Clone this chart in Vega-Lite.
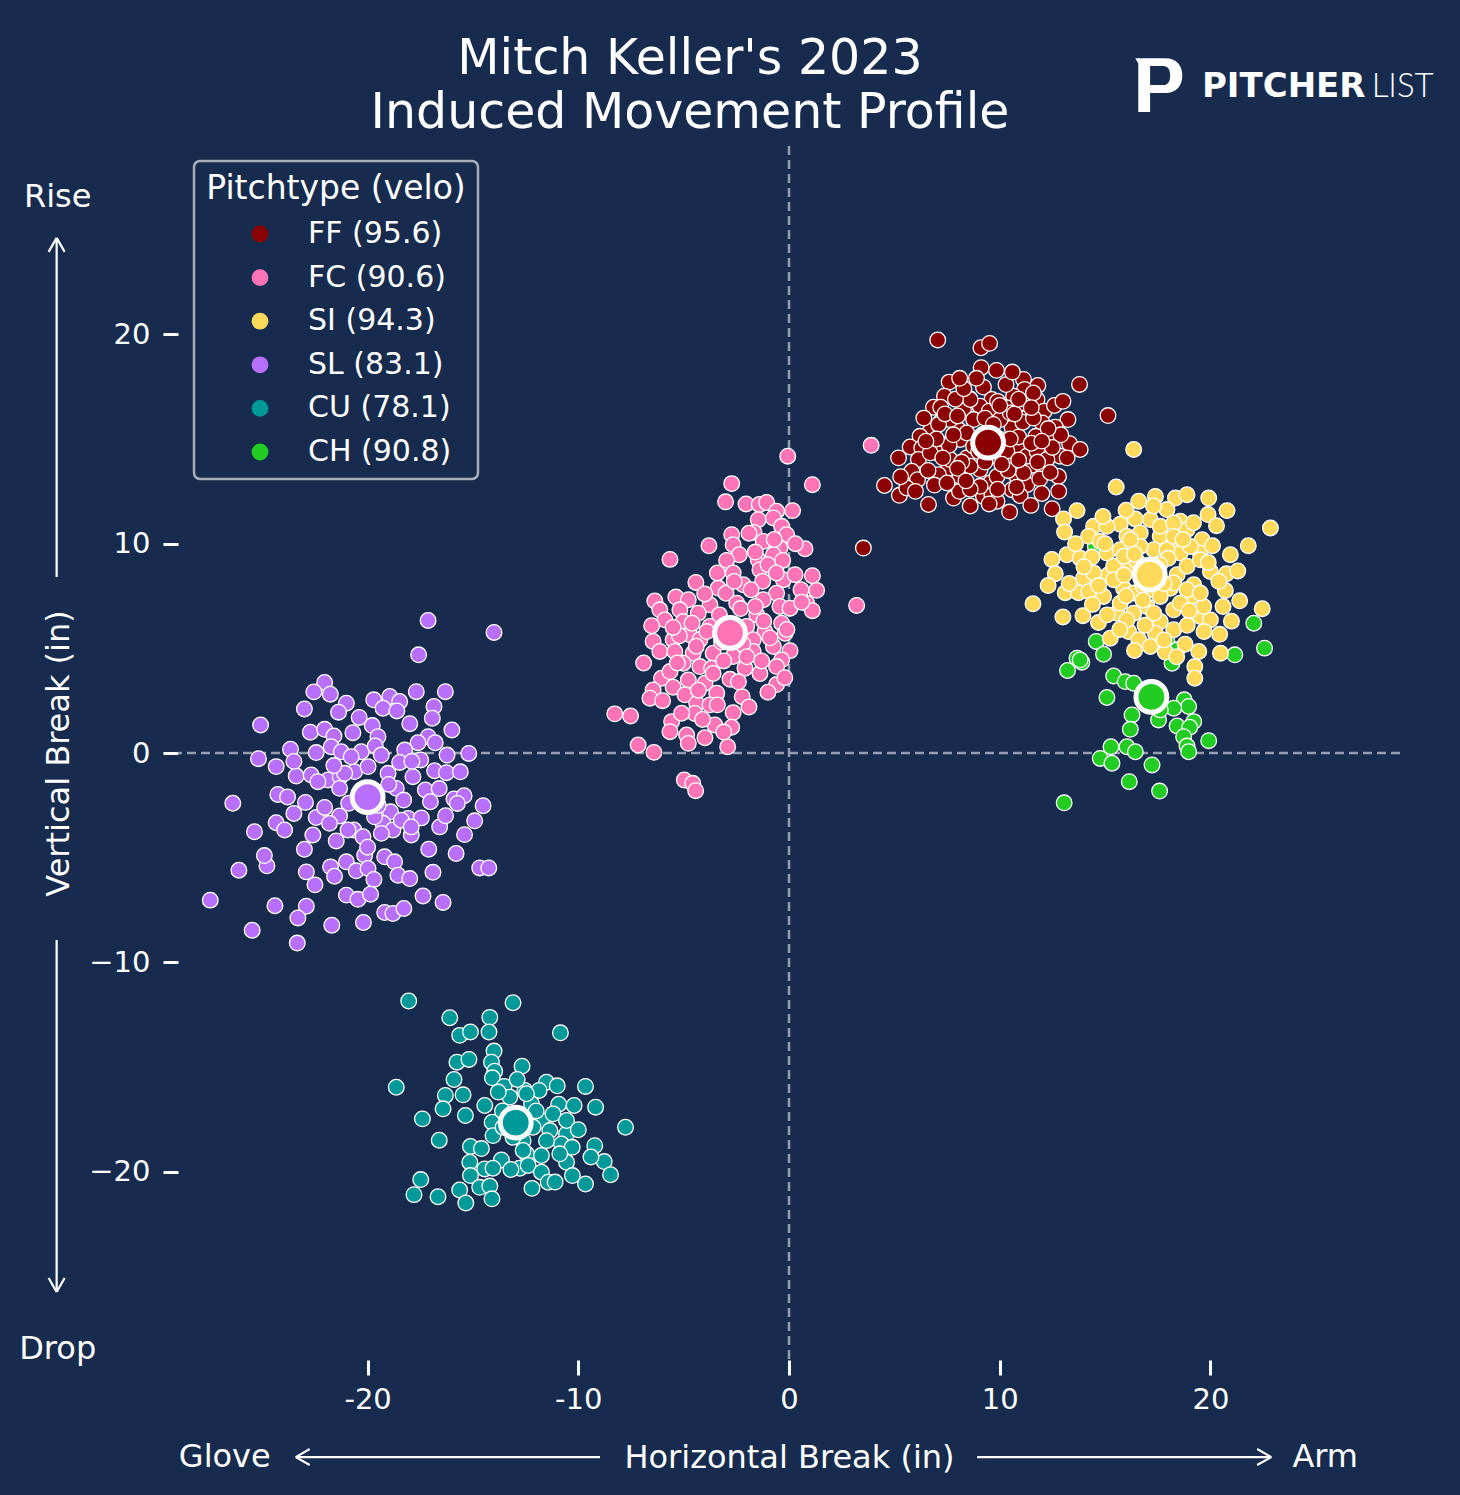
{
"$schema":"https://vega.github.io/schema/vega-lite/v6.json",
"width":1222,"height":1214,
"autosize":{"type":"none"},
"padding":{"left":178,"top":146,"right":60,"bottom":135},
"background":"#172b4e",
"datasets":{
"zx":[{"hb":0}],
"zy":[{"vb":0}],
"heading":[{"t":"Mitch Keller's 2023","hb":-4.7,"vb":32.44},{"t":"Induced Movement Profile","hb":-4.7,"vb":29.86}],
"means":[{"pitch":"FF","hb":9.45,"vb":14.83},{"pitch":"FC","hb":-2.8,"vb":5.74},{"pitch":"SI","hb":17.12,"vb":8.52},{"pitch":"SL","hb":-20.0,"vb":-2.11},{"pitch":"CU","hb":-12.97,"vb":-17.66},{"pitch":"CH","hb":17.2,"vb":2.68}],
"words":[{"t":"Rise","hb":-34.71,"vb":26.56},{"t":"Drop","hb":-34.71,"vb":-28.48},{"t":"Glove","hb":-26.78,"vb":-33.64},{"t":"Arm","hb":25.45,"vb":-33.64}],
"arrows":[
{"hb":-8.97,"vb":-33.64,"hb2":-23.41,"vb2":-33.64},{"hb":-23.41,"vb":-33.64,"hb2":-22.75,"vb2":-33.25},{"hb":-23.41,"vb":-33.64,"hb2":-22.75,"vb2":-34.02},
{"hb":8.93,"vb":-33.64,"hb2":22.89,"vb2":-33.64},{"hb":22.89,"vb":-33.64,"hb2":22.22,"vb2":-33.25},{"hb":22.89,"vb":-33.64,"hb2":22.22,"vb2":-34.02},
{"hb":-34.76,"vb":8.41,"hb2":-34.76,"vb2":24.61},{"hb":-34.76,"vb":24.61,"hb2":-35.14,"vb2":23.94},{"hb":-34.76,"vb":24.61,"hb2":-34.38,"vb2":23.94},
{"hb":-34.76,"vb":-8.93,"hb2":-34.76,"vb2":-25.75},{"hb":-34.76,"vb":-25.75,"hb2":-35.14,"vb2":-25.08},{"hb":-34.76,"vb":-25.75,"hb2":-34.38,"vb2":-25.08}],
"logo":[{"hb":17.57,"vb":31.94}],
"brand1":[{"t":"PITCHER","hb":19.6,"vb":31.34}],
"brand2":[{"t":"LIST","hb":30.6,"vb":31.34}],
"pitches":[
{"pitch":"FF","hb":7.06,"vb":19.73},{"pitch":"FF","hb":9.11,"vb":19.36},{"pitch":"FF","hb":9.52,"vb":19.57},{"pitch":"FF","hb":9.12,"vb":18.41},{"pitch":"FF","hb":9.85,"vb":18.28},{"pitch":"FF","hb":7.6,"vb":17.72},{"pitch":"FF","hb":9.23,"vb":17.48},{"pitch":"FF","hb":11.13,"vb":17.85},{"pitch":"FF","hb":11.81,"vb":17.56},{"pitch":"FF","hb":13.79,"vb":17.61},{"pitch":"FF","hb":11.18,"vb":17.37},{"pitch":"FF","hb":7.38,"vb":17.05},{"pitch":"FF","hb":8.58,"vb":16.92},{"pitch":"FF","hb":10.66,"vb":17.05},{"pitch":"FF","hb":6.86,"vb":16.52},{"pitch":"FF","hb":7.2,"vb":16.52},{"pitch":"FF","hb":9.63,"vb":16.89},{"pitch":"FF","hb":10.34,"vb":16.49},{"pitch":"FF","hb":11.05,"vb":16.73},{"pitch":"FF","hb":11.77,"vb":16.89},{"pitch":"FF","hb":12.11,"vb":16.33},{"pitch":"FF","hb":8.28,"vb":16.41},{"pitch":"FF","hb":9.07,"vb":16.57},{"pitch":"FF","hb":9.5,"vb":16.33},{"pitch":"FF","hb":7.22,"vb":15.85},{"pitch":"FF","hb":8.04,"vb":15.45},{"pitch":"FF","hb":6.7,"vb":15.37},{"pitch":"FF","hb":10.59,"vb":15.53},{"pitch":"FF","hb":11.29,"vb":16.01},{"pitch":"FF","hb":12.02,"vb":15.77},{"pitch":"FF","hb":13.24,"vb":15.93},{"pitch":"FF","hb":15.14,"vb":16.12},{"pitch":"FF","hb":11.72,"vb":15.13},{"pitch":"FF","hb":12.64,"vb":15.57},{"pitch":"FF","hb":6.22,"vb":15.13},{"pitch":"FF","hb":5.75,"vb":14.62},{"pitch":"FF","hb":6.3,"vb":14.57},{"pitch":"FF","hb":7.33,"vb":14.74},{"pitch":"FF","hb":7.02,"vb":14.34},{"pitch":"FF","hb":8.44,"vb":14.1},{"pitch":"FF","hb":10.82,"vb":14.57},{"pitch":"FF","hb":12.32,"vb":14.98},{"pitch":"FF","hb":13.32,"vb":14.78},{"pitch":"FF","hb":13.82,"vb":14.5},{"pitch":"FF","hb":12.87,"vb":14.18},{"pitch":"FF","hb":6.14,"vb":14.02},{"pitch":"FF","hb":5.83,"vb":13.46},{"pitch":"FF","hb":7.57,"vb":13.61},{"pitch":"FF","hb":9.07,"vb":13.54},{"pitch":"FF","hb":10.5,"vb":13.94},{"pitch":"FF","hb":11.58,"vb":13.75},{"pitch":"FF","hb":12.08,"vb":13.61},{"pitch":"FF","hb":12.79,"vb":13.21},{"pitch":"FF","hb":6.1,"vb":13.06},{"pitch":"FF","hb":7.09,"vb":13.3},{"pitch":"FF","hb":8.12,"vb":13.21},{"pitch":"FF","hb":9.55,"vb":12.9},{"pitch":"FF","hb":10.82,"vb":13.21},{"pitch":"FF","hb":11.29,"vb":12.82},{"pitch":"FF","hb":4.53,"vb":12.78},{"pitch":"FF","hb":5.24,"vb":12.31},{"pitch":"FF","hb":5.59,"vb":12.66},{"pitch":"FF","hb":6.62,"vb":11.87},{"pitch":"FF","hb":7.81,"vb":12.18},{"pitch":"FF","hb":8.09,"vb":12.5},{"pitch":"FF","hb":9.23,"vb":12.26},{"pitch":"FF","hb":9.63,"vb":12.3},{"pitch":"FF","hb":9.87,"vb":12.03},{"pitch":"FF","hb":10.58,"vb":12.58},{"pitch":"FF","hb":10.97,"vb":12.3},{"pitch":"FF","hb":10.47,"vb":11.51},{"pitch":"FF","hb":11.48,"vb":11.83},{"pitch":"FF","hb":12.49,"vb":11.67},{"pitch":"FF","hb":3.53,"vb":9.79},{"pitch":"FF","hb":8.6,"vb":16.89},{"pitch":"FF","hb":8.76,"vb":15.93},{"pitch":"FF","hb":9.55,"vb":15.61},{"pitch":"FF","hb":10.02,"vb":15.93},{"pitch":"FF","hb":7.65,"vb":15.93},{"pitch":"FF","hb":8.12,"vb":14.98},{"pitch":"FF","hb":10.02,"vb":14.98},{"pitch":"FF","hb":8.76,"vb":14.66},{"pitch":"FF","hb":9.87,"vb":14.18},{"pitch":"FF","hb":7.65,"vb":14.02},{"pitch":"FF","hb":8.6,"vb":13.7},{"pitch":"FF","hb":11.29,"vb":14.18},{"pitch":"FF","hb":11.77,"vb":14.42},{"pitch":"FF","hb":10.34,"vb":14.42},{"pitch":"FF","hb":6.7,"vb":14.34},{"pitch":"FF","hb":11.13,"vb":13.38},{"pitch":"FF","hb":9.87,"vb":13.21},{"pitch":"FF","hb":9.07,"vb":12.74},{"pitch":"FF","hb":8.44,"vb":15.29},{"pitch":"FF","hb":10.5,"vb":16.25},{"pitch":"FF","hb":12.24,"vb":14.02},{"pitch":"FF","hb":8.9,"vb":17.9},{"pitch":"FF","hb":10.3,"vb":17.6},{"pitch":"FF","hb":7.9,"vb":16.9},{"pitch":"FF","hb":11.6,"vb":17.2},{"pitch":"FF","hb":12.6,"vb":16.6},{"pitch":"FF","hb":9.2,"vb":15.2},{"pitch":"FF","hb":10.9,"vb":15.1},{"pitch":"FF","hb":11.1,"vb":15.8},{"pitch":"FF","hb":7.6,"vb":14.7},{"pitch":"FF","hb":8.2,"vb":13.9},{"pitch":"FF","hb":10.4,"vb":13.5},{"pitch":"FF","hb":12.9,"vb":15.2},{"pitch":"FF","hb":6.6,"vb":13.5},{"pitch":"FF","hb":8.6,"vb":12.6},{"pitch":"FF","hb":11.9,"vb":13.1},{"pitch":"FF","hb":9.9,"vb":16.8},{"pitch":"FF","hb":8.3,"vb":17.4},{"pitch":"FF","hb":10.7,"vb":16.2},{"pitch":"FF","hb":12.5,"vb":14.6},{"pitch":"FF","hb":7.1,"vb":15.7},
{"pitch":"FF","hb":7.4,"vb":16.2},{"pitch":"FF","hb":8.0,"vb":16.1},{"pitch":"FF","hb":9.3,"vb":16.0},{"pitch":"FF","hb":10.0,"vb":16.6},{"pitch":"FF","hb":10.9,"vb":16.9},{"pitch":"FF","hb":11.6,"vb":16.0},{"pitch":"FF","hb":12.3,"vb":15.5},{"pitch":"FF","hb":7.0,"vb":15.0},{"pitch":"FF","hb":7.8,"vb":15.2},{"pitch":"FF","hb":9.0,"vb":14.4},{"pitch":"FF","hb":9.7,"vb":15.7},{"pitch":"FF","hb":10.5,"vb":15.0},{"pitch":"FF","hb":11.5,"vb":14.8},{"pitch":"FF","hb":12.0,"vb":14.9},{"pitch":"FF","hb":6.5,"vb":14.9},{"pitch":"FF","hb":7.3,"vb":14.1},{"pitch":"FF","hb":8.0,"vb":13.6},{"pitch":"FF","hb":9.3,"vb":13.9},{"pitch":"FF","hb":10.1,"vb":13.8},{"pitch":"FF","hb":10.9,"vb":14.0},{"pitch":"FF","hb":11.8,"vb":13.9},{"pitch":"FF","hb":12.4,"vb":13.4},{"pitch":"FF","hb":6.9,"vb":12.8},{"pitch":"FF","hb":7.5,"vb":12.9},{"pitch":"FF","hb":8.4,"vb":13.0},{"pitch":"FF","hb":9.9,"vb":12.6},{"pitch":"FF","hb":10.8,"vb":12.7},{"pitch":"FF","hb":12.0,"vb":12.4},{"pitch":"FF","hb":5.3,"vb":13.2},{"pitch":"FF","hb":6.0,"vb":12.5},{"pitch":"FF","hb":13.2,"vb":14.1},{"pitch":"FF","hb":13.0,"vb":16.8},{"pitch":"FF","hb":8.1,"vb":17.9},{"pitch":"FF","hb":10.6,"vb":18.2},{"pitch":"FF","hb":6.4,"vb":16.0},{"pitch":"FF","hb":5.2,"vb":14.1},{"pitch":"FF","hb":12.8,"vb":12.5},{"pitch":"FF","hb":9.5,"vb":11.9},{"pitch":"FF","hb":8.6,"vb":11.8},{"pitch":"FF","hb":11.5,"vb":16.5},
{"pitch":"FC","hb":-0.06,"vb":14.18},{"pitch":"FC","hb":-2.72,"vb":12.87},{"pitch":"FC","hb":1.11,"vb":12.82},{"pitch":"FC","hb":-3.01,"vb":12.0},{"pitch":"FC","hb":-2.04,"vb":11.9},{"pitch":"FC","hb":-1.41,"vb":11.87},{"pitch":"FC","hb":-1.06,"vb":11.97},{"pitch":"FC","hb":-0.59,"vb":11.55},{"pitch":"FC","hb":0.17,"vb":11.58},{"pitch":"FC","hb":-1.46,"vb":11.15},{"pitch":"FC","hb":-0.74,"vb":11.23},{"pitch":"FC","hb":-0.35,"vb":10.83},{"pitch":"FC","hb":-0.11,"vb":10.43},{"pitch":"FC","hb":-1.66,"vb":10.54},{"pitch":"FC","hb":-1.22,"vb":10.11},{"pitch":"FC","hb":-2.72,"vb":10.43},{"pitch":"FC","hb":-2.65,"vb":9.95},{"pitch":"FC","hb":0.76,"vb":9.76},{"pitch":"FC","hb":-5.65,"vb":9.25},{"pitch":"FC","hb":-0.43,"vb":9.79},{"pitch":"FC","hb":-0.74,"vb":9.47},{"pitch":"FC","hb":-2.36,"vb":9.47},{"pitch":"FC","hb":-2.96,"vb":9.2},{"pitch":"FC","hb":-1.46,"vb":9.23},{"pitch":"FC","hb":-2.65,"vb":8.6},{"pitch":"FC","hb":-1.38,"vb":8.76},{"pitch":"FC","hb":-0.27,"vb":8.28},{"pitch":"FC","hb":0.29,"vb":8.52},{"pitch":"FC","hb":1.11,"vb":8.47},{"pitch":"FC","hb":1.31,"vb":7.77},{"pitch":"FC","hb":0.57,"vb":7.8},{"pitch":"FC","hb":0.84,"vb":7.16},{"pitch":"FC","hb":1.11,"vb":6.8},{"pitch":"FC","hb":3.21,"vb":7.05},{"pitch":"FC","hb":3.9,"vb":14.7},{"pitch":"FC","hb":-4.42,"vb":8.15},{"pitch":"FC","hb":-3.36,"vb":7.88},{"pitch":"FC","hb":-2.17,"vb":8.04},{"pitch":"FC","hb":-1.25,"vb":8.2},{"pitch":"FC","hb":-0.59,"vb":7.63},{"pitch":"FC","hb":-2.99,"vb":7.63},{"pitch":"FC","hb":-6.37,"vb":7.26},{"pitch":"FC","hb":-5.37,"vb":7.45},{"pitch":"FC","hb":-4.78,"vb":7.32},{"pitch":"FC","hb":-3.75,"vb":7.08},{"pitch":"FC","hb":-2.48,"vb":7.16},{"pitch":"FC","hb":-1.22,"vb":7.32},{"pitch":"FC","hb":-0.43,"vb":7.0},{"pitch":"FC","hb":0.05,"vb":6.92},{"pitch":"FC","hb":-6.13,"vb":6.84},{"pitch":"FC","hb":-5.18,"vb":6.84},{"pitch":"FC","hb":-4.31,"vb":6.68},{"pitch":"FC","hb":-1.53,"vb":6.6},{"pitch":"FC","hb":-5.89,"vb":6.36},{"pitch":"FC","hb":-6.52,"vb":6.08},{"pitch":"FC","hb":-5.02,"vb":6.28},{"pitch":"FC","hb":-3.75,"vb":6.05},{"pitch":"FC","hb":-2.01,"vb":6.05},{"pitch":"FC","hb":-1.14,"vb":5.8},{"pitch":"FC","hb":-0.35,"vb":6.2},{"pitch":"FC","hb":-0.19,"vb":5.72},{"pitch":"FC","hb":-6.45,"vb":5.33},{"pitch":"FC","hb":-5.5,"vb":5.41},{"pitch":"FC","hb":-4.7,"vb":5.65},{"pitch":"FC","hb":-4.23,"vb":5.41},{"pitch":"FC","hb":-1.7,"vb":5.41},{"pitch":"FC","hb":-0.74,"vb":5.09},{"pitch":"FC","hb":0.05,"vb":4.89},{"pitch":"FC","hb":-6.13,"vb":4.85},{"pitch":"FC","hb":-5.42,"vb":4.85},{"pitch":"FC","hb":-4.55,"vb":4.77},{"pitch":"FC","hb":-3.6,"vb":4.77},{"pitch":"FC","hb":-2.65,"vb":4.61},{"pitch":"FC","hb":-1.7,"vb":4.85},{"pitch":"FC","hb":-0.35,"vb":4.45},{"pitch":"FC","hb":-5.02,"vb":4.29},{"pitch":"FC","hb":-4.23,"vb":4.13},{"pitch":"FC","hb":-3.67,"vb":4.05},{"pitch":"FC","hb":-2.09,"vb":4.05},{"pitch":"FC","hb":-0.59,"vb":4.13},{"pitch":"FC","hb":-6.05,"vb":3.57},{"pitch":"FC","hb":-5.65,"vb":3.89},{"pitch":"FC","hb":-4.78,"vb":3.49},{"pitch":"FC","hb":-3.99,"vb":3.33},{"pitch":"FC","hb":-2.8,"vb":3.52},{"pitch":"FC","hb":-1.38,"vb":3.8},{"pitch":"FC","hb":-0.59,"vb":3.27},{"pitch":"FC","hb":-5.5,"vb":3.14},{"pitch":"FC","hb":-6.45,"vb":3.01},{"pitch":"FC","hb":-6.6,"vb":2.62},{"pitch":"FC","hb":-4.94,"vb":2.78},{"pitch":"FC","hb":-3.43,"vb":2.86},{"pitch":"FC","hb":-2.22,"vb":2.69},{"pitch":"FC","hb":-4.38,"vb":2.37},{"pitch":"FC","hb":-3.75,"vb":2.3},{"pitch":"FC","hb":-2.65,"vb":1.93},{"pitch":"FC","hb":-4.47,"vb":1.89},{"pitch":"FC","hb":-8.27,"vb":1.87},{"pitch":"FC","hb":-7.52,"vb":1.77},{"pitch":"FC","hb":-5.57,"vb":1.5},{"pitch":"FC","hb":-5.65,"vb":1.02},{"pitch":"FC","hb":-3.52,"vb":1.34},{"pitch":"FC","hb":-2.72,"vb":1.23},{"pitch":"FC","hb":-4.86,"vb":0.86},{"pitch":"FC","hb":-3.99,"vb":0.73},{"pitch":"FC","hb":-4.78,"vb":0.46},{"pitch":"FC","hb":-2.91,"vb":0.3},{"pitch":"FC","hb":-7.16,"vb":0.38},{"pitch":"FC","hb":-6.41,"vb":0.03},{"pitch":"FC","hb":-4.97,"vb":-1.29},{"pitch":"FC","hb":-4.57,"vb":-1.45},{"pitch":"FC","hb":-4.43,"vb":-1.8},{"pitch":"FC","hb":-3.3,"vb":6.6},{"pitch":"FC","hb":-2.3,"vb":6.9},{"pitch":"FC","hb":-1.8,"vb":7.8},{"pitch":"FC","hb":-3.9,"vb":5.8},{"pitch":"FC","hb":-2.2,"vb":5.2},{"pitch":"FC","hb":-3.1,"vb":4.4},{"pitch":"FC","hb":-1.2,"vb":6.3},{"pitch":"FC","hb":-4.6,"vb":6.2},{"pitch":"FC","hb":-2.6,"vb":8.2},{"pitch":"FC","hb":-1.0,"vb":9.0},{"pitch":"FC","hb":-0.7,"vb":10.2},{"pitch":"FC","hb":-3.6,"vb":3.8},{"pitch":"FC","hb":-2.0,"vb":4.6},{"pitch":"FC","hb":-0.9,"vb":5.5},{"pitch":"FC","hb":-5.2,"vb":5.6},
{"pitch":"FC","hb":-3.8,"vb":9.9},{"pitch":"FC","hb":-1.9,"vb":10.5},{"pitch":"FC","hb":-0.3,"vb":9.2},{"pitch":"FC","hb":0.3,"vb":10.0},{"pitch":"FC","hb":-1.6,"vb":9.6},{"pitch":"FC","hb":-3.4,"vb":8.6},{"pitch":"FC","hb":-0.6,"vb":8.6},{"pitch":"FC","hb":0.6,"vb":7.2},{"pitch":"FC","hb":-4.0,"vb":7.6},{"pitch":"FC","hb":-1.6,"vb":7.0},{"pitch":"FC","hb":-5.5,"vb":6.0},{"pitch":"FC","hb":-4.4,"vb":5.1},{"pitch":"FC","hb":-3.2,"vb":5.3},{"pitch":"FC","hb":-2.6,"vb":5.9},{"pitch":"FC","hb":-1.3,"vb":4.4},{"pitch":"FC","hb":-0.1,"vb":5.9},{"pitch":"FC","hb":-5.3,"vb":4.3},{"pitch":"FC","hb":-2.4,"vb":3.4},{"pitch":"FC","hb":-3.4,"vb":2.3},{"pitch":"FC","hb":-5.1,"vb":1.9},{"pitch":"FC","hb":-4.1,"vb":1.6},{"pitch":"FC","hb":-3.1,"vb":1.0},{"pitch":"FC","hb":-4.3,"vb":3.0},{"pitch":"FC","hb":-6.9,"vb":4.3},{"pitch":"FC","hb":-0.2,"vb":3.6},{"pitch":"FC","hb":-1.0,"vb":2.9},{"pitch":"FC","hb":-1.9,"vb":2.2},{"pitch":"FC","hb":-6.0,"vb":2.5},
{"pitch":"SL","hb":-17.13,"vb":6.33},{"pitch":"SL","hb":-14.0,"vb":5.76},{"pitch":"SL","hb":-17.58,"vb":4.69},{"pitch":"SL","hb":-22.04,"vb":3.37},{"pitch":"SL","hb":-22.55,"vb":2.92},{"pitch":"SL","hb":-21.77,"vb":2.81},{"pitch":"SL","hb":-21.01,"vb":2.38},{"pitch":"SL","hb":-21.38,"vb":1.95},{"pitch":"SL","hb":-19.71,"vb":2.54},{"pitch":"SL","hb":-18.95,"vb":2.7},{"pitch":"SL","hb":-18.48,"vb":2.46},{"pitch":"SL","hb":-19.27,"vb":2.14},{"pitch":"SL","hb":-18.61,"vb":2.01},{"pitch":"SL","hb":-17.69,"vb":2.93},{"pitch":"SL","hb":-16.31,"vb":2.93},{"pitch":"SL","hb":-16.85,"vb":2.22},{"pitch":"SL","hb":-16.93,"vb":1.66},{"pitch":"SL","hb":-25.08,"vb":1.34},{"pitch":"SL","hb":-22.72,"vb":0.99},{"pitch":"SL","hb":-22.04,"vb":1.13},{"pitch":"SL","hb":-21.6,"vb":0.81},{"pitch":"SL","hb":-20.7,"vb":0.97},{"pitch":"SL","hb":-19.78,"vb":1.31},{"pitch":"SL","hb":-19.51,"vb":0.78},{"pitch":"SL","hb":-17.13,"vb":0.78},{"pitch":"SL","hb":-17.61,"vb":0.49},{"pitch":"SL","hb":-16.79,"vb":0.49},{"pitch":"SL","hb":-23.66,"vb":0.18},{"pitch":"SL","hb":-25.18,"vb":-0.27},{"pitch":"SL","hb":-22.44,"vb":0.02},{"pitch":"SL","hb":-21.73,"vb":0.3},{"pitch":"SL","hb":-21.25,"vb":0.06},{"pitch":"SL","hb":-20.3,"vb":0.06},{"pitch":"SL","hb":-19.64,"vb":0.34},{"pitch":"SL","hb":-19.35,"vb":-0.1},{"pitch":"SL","hb":-18.24,"vb":0.14},{"pitch":"SL","hb":-18.48,"vb":-0.45},{"pitch":"SL","hb":-17.48,"vb":-0.33},{"pitch":"SL","hb":-16.23,"vb":-0.1},{"pitch":"SL","hb":-15.2,"vb":-0.02},{"pitch":"SL","hb":-24.34,"vb":-0.65},{"pitch":"SL","hb":-23.39,"vb":-1.1},{"pitch":"SL","hb":-22.68,"vb":-1.05},{"pitch":"SL","hb":-21.88,"vb":-1.29},{"pitch":"SL","hb":-21.3,"vb":-1.13},{"pitch":"SL","hb":-20.62,"vb":-0.89},{"pitch":"SL","hb":-17.85,"vb":-1.13},{"pitch":"SL","hb":-16.82,"vb":-0.85},{"pitch":"SL","hb":-16.26,"vb":-0.94},{"pitch":"SL","hb":-24.26,"vb":-1.98},{"pitch":"SL","hb":-22.95,"vb":-2.36},{"pitch":"SL","hb":-21.33,"vb":-1.69},{"pitch":"SL","hb":-18.64,"vb":-1.69},{"pitch":"SL","hb":-18.29,"vb":-2.25},{"pitch":"SL","hb":-17.26,"vb":-1.77},{"pitch":"SL","hb":-17.02,"vb":-2.33},{"pitch":"SL","hb":-15.9,"vb":-2.2},{"pitch":"SL","hb":-15.42,"vb":-2.04},{"pitch":"SL","hb":-15.74,"vb":-2.41},{"pitch":"SL","hb":-14.52,"vb":-2.52},{"pitch":"SL","hb":-23.5,"vb":-2.89},{"pitch":"SL","hb":-22.44,"vb":-3.08},{"pitch":"SL","hb":-22.04,"vb":-2.6},{"pitch":"SL","hb":-21.33,"vb":-3.01},{"pitch":"SL","hb":-18.91,"vb":-2.81},{"pitch":"SL","hb":-18.08,"vb":-3.13},{"pitch":"SL","hb":-17.45,"vb":-3.1},{"pitch":"SL","hb":-14.92,"vb":-3.24},{"pitch":"SL","hb":-24.34,"vb":-3.33},{"pitch":"SL","hb":-23.94,"vb":-3.68},{"pitch":"SL","hb":-25.37,"vb":-3.76},{"pitch":"SL","hb":-22.6,"vb":-3.92},{"pitch":"SL","hb":-21.81,"vb":-3.36},{"pitch":"SL","hb":-21.49,"vb":-4.2},{"pitch":"SL","hb":-20.65,"vb":-3.68},{"pitch":"SL","hb":-20.22,"vb":-4.0},{"pitch":"SL","hb":-19.27,"vb":-3.36},{"pitch":"SL","hb":-18.8,"vb":-3.68},{"pitch":"SL","hb":-17.93,"vb":-3.92},{"pitch":"SL","hb":-16.58,"vb":-3.53},{"pitch":"SL","hb":-26.11,"vb":-5.6},{"pitch":"SL","hb":-24.78,"vb":-5.39},{"pitch":"SL","hb":-22.91,"vb":-5.68},{"pitch":"SL","hb":-21.76,"vb":-5.44},{"pitch":"SL","hb":-21.57,"vb":-5.89},{"pitch":"SL","hb":-21.01,"vb":-5.2},{"pitch":"SL","hb":-20.54,"vb":-5.63},{"pitch":"SL","hb":-20.14,"vb":-4.88},{"pitch":"SL","hb":-19.98,"vb":-5.52},{"pitch":"SL","hb":-19.7,"vb":-6.04},{"pitch":"SL","hb":-19.19,"vb":-4.96},{"pitch":"SL","hb":-18.72,"vb":-5.2},{"pitch":"SL","hb":-18.56,"vb":-5.84},{"pitch":"SL","hb":-14.68,"vb":-5.49},{"pitch":"SL","hb":-14.25,"vb":-5.49},{"pitch":"SL","hb":-21.01,"vb":-6.79},{"pitch":"SL","hb":-20.46,"vb":-6.99},{"pitch":"SL","hb":-19.86,"vb":-6.75},{"pitch":"SL","hb":-17.37,"vb":-6.83},{"pitch":"SL","hb":-16.42,"vb":-7.14},{"pitch":"SL","hb":-27.47,"vb":-7.03},{"pitch":"SL","hb":-22.91,"vb":-7.32},{"pitch":"SL","hb":-23.31,"vb":-7.88},{"pitch":"SL","hb":-19.19,"vb":-7.62},{"pitch":"SL","hb":-18.8,"vb":-7.67},{"pitch":"SL","hb":-18.28,"vb":-7.43},{"pitch":"SL","hb":-21.7,"vb":-8.23},{"pitch":"SL","hb":-25.48,"vb":-8.47},{"pitch":"SL","hb":-23.34,"vb":-9.08},{"pitch":"SL","hb":-22.36,"vb":-1.37},{"pitch":"SL","hb":-21.09,"vb":-0.97},{"pitch":"SL","hb":-20.3,"vb":-1.77},{"pitch":"SL","hb":-19.67,"vb":-3.05},{"pitch":"SL","hb":-19.35,"vb":-3.84},{"pitch":"SL","hb":-18.4,"vb":-3.21},{"pitch":"SL","hb":-19.98,"vb":-0.65},{"pitch":"SL","hb":-19.03,"vb":-0.97},{"pitch":"SL","hb":-20.78,"vb":-0.18},{"pitch":"SL","hb":-17.93,"vb":-3.53},{"pitch":"SL","hb":-20.93,"vb":-3.68},
{"pitch":"SL","hb":-23.0,"vb":2.1},{"pitch":"SL","hb":-20.4,"vb":1.7},{"pitch":"SL","hb":-18.0,"vb":1.4},{"pitch":"SL","hb":-16.0,"vb":1.1},{"pitch":"SL","hb":-23.5,"vb":-0.4},{"pitch":"SL","hb":-21.6,"vb":-0.6},{"pitch":"SL","hb":-19.0,"vb":-1.5},{"pitch":"SL","hb":-17.9,"vb":-0.4},{"pitch":"SL","hb":-16.6,"vb":-1.7},{"pitch":"SL","hb":-15.6,"vb":-0.9},{"pitch":"SL","hb":-23.8,"vb":-2.1},{"pitch":"SL","hb":-20.9,"vb":-2.4},{"pitch":"SL","hb":-19.5,"vb":-2.5},{"pitch":"SL","hb":-16.3,"vb":-3.0},{"pitch":"SL","hb":-15.4,"vb":-3.9},{"pitch":"SL","hb":-23.0,"vb":-4.6},{"pitch":"SL","hb":-20.0,"vb":-4.5},{"pitch":"SL","hb":-17.1,"vb":-4.6},{"pitch":"SL","hb":-15.8,"vb":-4.8},{"pitch":"SL","hb":-22.5,"vb":-6.3},{"pitch":"SL","hb":-18.0,"vb":-6.0},{"pitch":"SL","hb":-24.4,"vb":-7.3},{"pitch":"SL","hb":-20.2,"vb":-8.1},{"pitch":"SL","hb":-16.9,"vb":-5.7},{"pitch":"SL","hb":-26.4,"vb":-2.4},{"pitch":"SL","hb":-24.9,"vb":-4.9},
{"pitch":"CU","hb":-18.05,"vb":-11.85},{"pitch":"CU","hb":-13.1,"vb":-11.93},{"pitch":"CU","hb":-16.1,"vb":-12.65},{"pitch":"CU","hb":-14.2,"vb":-12.63},{"pitch":"CU","hb":-10.85,"vb":-13.37},{"pitch":"CU","hb":-15.63,"vb":-13.49},{"pitch":"CU","hb":-15.12,"vb":-13.33},{"pitch":"CU","hb":-14.24,"vb":-13.33},{"pitch":"CU","hb":-14.0,"vb":-14.24},{"pitch":"CU","hb":-15.76,"vb":-14.77},{"pitch":"CU","hb":-15.19,"vb":-14.64},{"pitch":"CU","hb":-14.12,"vb":-14.77},{"pitch":"CU","hb":-12.67,"vb":-14.96},{"pitch":"CU","hb":-13.97,"vb":-15.2},{"pitch":"CU","hb":-14.08,"vb":-15.52},{"pitch":"CU","hb":-18.64,"vb":-15.97},{"pitch":"CU","hb":-13.52,"vb":-15.93},{"pitch":"CU","hb":-11.51,"vb":-15.73},{"pitch":"CU","hb":-9.66,"vb":-15.93},{"pitch":"CU","hb":-16.31,"vb":-16.36},{"pitch":"CU","hb":-15.47,"vb":-16.33},{"pitch":"CU","hb":-14.44,"vb":-16.84},{"pitch":"CU","hb":-13.25,"vb":-16.44},{"pitch":"CU","hb":-12.54,"vb":-16.12},{"pitch":"CU","hb":-11.86,"vb":-16.12},{"pitch":"CU","hb":-12.22,"vb":-16.76},{"pitch":"CU","hb":-10.93,"vb":-16.78},{"pitch":"CU","hb":-10.2,"vb":-16.84},{"pitch":"CU","hb":-9.18,"vb":-16.92},{"pitch":"CU","hb":-16.42,"vb":-17.0},{"pitch":"CU","hb":-17.4,"vb":-17.48},{"pitch":"CU","hb":-15.36,"vb":-17.32},{"pitch":"CU","hb":-14.09,"vb":-17.64},{"pitch":"CU","hb":-11.75,"vb":-17.56},{"pitch":"CU","hb":-11.35,"vb":-18.04},{"pitch":"CU","hb":-7.76,"vb":-17.88},{"pitch":"CU","hb":-14.05,"vb":-18.28},{"pitch":"CU","hb":-12.62,"vb":-18.52},{"pitch":"CU","hb":-10.56,"vb":-18.2},{"pitch":"CU","hb":-10.8,"vb":-18.68},{"pitch":"CU","hb":-10.29,"vb":-18.84},{"pitch":"CU","hb":-9.22,"vb":-18.76},{"pitch":"CU","hb":-15.12,"vb":-18.8},{"pitch":"CU","hb":-13.65,"vb":-19.44},{"pitch":"CU","hb":-12.46,"vb":-19.15},{"pitch":"CU","hb":-11.75,"vb":-19.23},{"pitch":"CU","hb":-15.15,"vb":-19.55},{"pitch":"CU","hb":-14.44,"vb":-19.87},{"pitch":"CU","hb":-14.05,"vb":-19.84},{"pitch":"CU","hb":-12.78,"vb":-19.84},{"pitch":"CU","hb":-10.56,"vb":-19.55},{"pitch":"CU","hb":-8.77,"vb":-19.52},{"pitch":"CU","hb":-12.38,"vb":-19.71},{"pitch":"CU","hb":-11.75,"vb":-20.03},{"pitch":"CU","hb":-15.12,"vb":-20.19},{"pitch":"CU","hb":-10.28,"vb":-20.19},{"pitch":"CU","hb":-8.47,"vb":-20.15},{"pitch":"CU","hb":-17.48,"vb":-20.38},{"pitch":"CU","hb":-11.43,"vb":-20.51},{"pitch":"CU","hb":-9.66,"vb":-20.59},{"pitch":"CU","hb":-14.68,"vb":-20.75},{"pitch":"CU","hb":-14.2,"vb":-20.69},{"pitch":"CU","hb":-17.8,"vb":-21.1},{"pitch":"CU","hb":-16.66,"vb":-21.2},{"pitch":"CU","hb":-15.63,"vb":-20.88},{"pitch":"CU","hb":-15.34,"vb":-21.5},{"pitch":"CU","hb":-12.78,"vb":-17.56},{"pitch":"CU","hb":-12.15,"vb":-17.88},{"pitch":"CU","hb":-11.51,"vb":-18.52},{"pitch":"CU","hb":-10.88,"vb":-19.15},{"pitch":"CU","hb":-13.1,"vb":-18.36},{"pitch":"CU","hb":-13.57,"vb":-17.88},{"pitch":"CU","hb":-12.46,"vb":-16.28},{"pitch":"CU","hb":-11.2,"vb":-17.24},{"pitch":"CU","hb":-10.56,"vb":-17.56},{"pitch":"CU","hb":-12.62,"vb":-18.99},
{"pitch":"CU","hb":-13.8,"vb":-16.2},{"pitch":"CU","hb":-12.9,"vb":-15.6},{"pitch":"CU","hb":-11.0,"vb":-15.9},{"pitch":"CU","hb":-13.6,"vb":-17.1},{"pitch":"CU","hb":-12.0,"vb":-17.1},{"pitch":"CU","hb":-10.0,"vb":-18.0},{"pitch":"CU","hb":-14.6,"vb":-18.9},{"pitch":"CU","hb":-13.2,"vb":-19.9},{"pitch":"CU","hb":-11.1,"vb":-20.5},{"pitch":"CU","hb":-9.4,"vb":-19.3},{"pitch":"CU","hb":-16.6,"vb":-18.5},{"pitch":"CU","hb":-15.9,"vb":-15.6},{"pitch":"CU","hb":-12.2,"vb":-20.8},{"pitch":"CU","hb":-14.1,"vb":-21.3},
{"pitch":"CH","hb":22.06,"vb":6.2},{"pitch":"CH","hb":22.57,"vb":5.01},{"pitch":"CH","hb":21.16,"vb":4.69},{"pitch":"CH","hb":14.58,"vb":5.33},{"pitch":"CH","hb":14.93,"vb":4.72},{"pitch":"CH","hb":13.67,"vb":4.53},{"pitch":"CH","hb":13.9,"vb":4.34},{"pitch":"CH","hb":13.22,"vb":3.94},{"pitch":"CH","hb":15.41,"vb":3.68},{"pitch":"CH","hb":15.96,"vb":3.41},{"pitch":"CH","hb":16.36,"vb":3.33},{"pitch":"CH","hb":15.09,"vb":2.65},{"pitch":"CH","hb":18.76,"vb":2.54},{"pitch":"CH","hb":18.97,"vb":2.22},{"pitch":"CH","hb":16.28,"vb":1.82},{"pitch":"CH","hb":17.54,"vb":1.58},{"pitch":"CH","hb":18.26,"vb":2.14},{"pitch":"CH","hb":19.21,"vb":1.5},{"pitch":"CH","hb":18.42,"vb":1.29},{"pitch":"CH","hb":19.02,"vb":1.23},{"pitch":"CH","hb":16.2,"vb":1.13},{"pitch":"CH","hb":19.92,"vb":0.59},{"pitch":"CH","hb":18.73,"vb":0.78},{"pitch":"CH","hb":18.89,"vb":0.33},{"pitch":"CH","hb":18.97,"vb":0.06},{"pitch":"CH","hb":15.28,"vb":0.3},{"pitch":"CH","hb":16.04,"vb":0.3},{"pitch":"CH","hb":16.44,"vb":0.06},{"pitch":"CH","hb":14.77,"vb":-0.26},{"pitch":"CH","hb":15.33,"vb":-0.49},{"pitch":"CH","hb":17.23,"vb":-0.57},{"pitch":"CH","hb":16.15,"vb":-1.37},{"pitch":"CH","hb":17.59,"vb":-1.82},{"pitch":"CH","hb":13.06,"vb":-2.38},{"pitch":"CH","hb":17.94,"vb":5.33},{"pitch":"CH","hb":18.42,"vb":4.93},{"pitch":"CH","hb":18.18,"vb":4.29},{"pitch":"CH","hb":14.54,"vb":9.87},{"pitch":"CH","hb":14.69,"vb":8.2},{"pitch":"CH","hb":17.62,"vb":2.06},{"pitch":"CH","hb":13.82,"vb":4.45},
{"pitch":"SI","hb":16.36,"vb":14.5},{"pitch":"SI","hb":15.53,"vb":12.71},{"pitch":"SI","hb":22.85,"vb":10.75},{"pitch":"SI","hb":11.58,"vb":7.13},{"pitch":"SI","hb":13.67,"vb":11.58},{"pitch":"SI","hb":13.03,"vb":11.18},{"pitch":"SI","hb":13.08,"vb":10.56},{"pitch":"SI","hb":16.6,"vb":12.03},{"pitch":"SI","hb":17.39,"vb":12.26},{"pitch":"SI","hb":18.34,"vb":12.18},{"pitch":"SI","hb":18.89,"vb":12.34},{"pitch":"SI","hb":19.92,"vb":12.18},{"pitch":"SI","hb":20.79,"vb":11.58},{"pitch":"SI","hb":19.89,"vb":11.39},{"pitch":"SI","hb":20.29,"vb":10.86},{"pitch":"SI","hb":17.94,"vb":11.63},{"pitch":"SI","hb":18.57,"vb":11.07},{"pitch":"SI","hb":15.72,"vb":10.93},{"pitch":"SI","hb":16.44,"vb":11.18},{"pitch":"SI","hb":17.15,"vb":11.15},{"pitch":"SI","hb":14.46,"vb":10.83},{"pitch":"SI","hb":18.89,"vb":10.67},{"pitch":"SI","hb":19.61,"vb":10.19},{"pitch":"SI","hb":14.22,"vb":10.35},{"pitch":"SI","hb":14.77,"vb":10.11},{"pitch":"SI","hb":16.04,"vb":10.35},{"pitch":"SI","hb":16.67,"vb":10.51},{"pitch":"SI","hb":17.62,"vb":10.35},{"pitch":"SI","hb":18.26,"vb":10.11},{"pitch":"SI","hb":19.52,"vb":9.55},{"pitch":"SI","hb":20.95,"vb":9.47},{"pitch":"SI","hb":12.48,"vb":9.25},{"pitch":"SI","hb":13.19,"vb":9.47},{"pitch":"SI","hb":13.82,"vb":9.31},{"pitch":"SI","hb":14.38,"vb":9.36},{"pitch":"SI","hb":15.09,"vb":9.55},{"pitch":"SI","hb":15.72,"vb":9.71},{"pitch":"SI","hb":17.31,"vb":9.71},{"pitch":"SI","hb":18.57,"vb":9.55},{"pitch":"SI","hb":12.64,"vb":8.56},{"pitch":"SI","hb":13.98,"vb":8.35},{"pitch":"SI","hb":15.17,"vb":8.52},{"pitch":"SI","hb":16.2,"vb":8.91},{"pitch":"SI","hb":18.42,"vb":8.52},{"pitch":"SI","hb":19.21,"vb":8.04},{"pitch":"SI","hb":20.0,"vb":8.67},{"pitch":"SI","hb":20.76,"vb":8.56},{"pitch":"SI","hb":13.11,"vb":7.66},{"pitch":"SI","hb":13.74,"vb":7.66},{"pitch":"SI","hb":14.22,"vb":7.71},{"pitch":"SI","hb":14.93,"vb":7.48},{"pitch":"SI","hb":15.88,"vb":7.87},{"pitch":"SI","hb":17.15,"vb":7.8},{"pitch":"SI","hb":18.1,"vb":7.87},{"pitch":"SI","hb":19.13,"vb":7.48},{"pitch":"SI","hb":20.71,"vb":7.76},{"pitch":"SI","hb":21.39,"vb":7.27},{"pitch":"SI","hb":22.46,"vb":6.89},{"pitch":"SI","hb":13.95,"vb":6.56},{"pitch":"SI","hb":14.69,"vb":6.23},{"pitch":"SI","hb":15.57,"vb":6.68},{"pitch":"SI","hb":16.36,"vb":6.68},{"pitch":"SI","hb":17.62,"vb":6.28},{"pitch":"SI","hb":18.26,"vb":6.84},{"pitch":"SI","hb":19.52,"vb":6.52},{"pitch":"SI","hb":20.0,"vb":6.36},{"pitch":"SI","hb":15.25,"vb":5.48},{"pitch":"SI","hb":16.12,"vb":5.8},{"pitch":"SI","hb":16.6,"vb":5.41},{"pitch":"SI","hb":17.39,"vb":5.72},{"pitch":"SI","hb":18.26,"vb":5.89},{"pitch":"SI","hb":20.44,"vb":5.67},{"pitch":"SI","hb":17.15,"vb":5.09},{"pitch":"SI","hb":17.86,"vb":4.82},{"pitch":"SI","hb":19.45,"vb":4.85},{"pitch":"SI","hb":20.48,"vb":4.77},{"pitch":"SI","hb":19.26,"vb":4.13},{"pitch":"SI","hb":19.26,"vb":3.57},{"pitch":"SI","hb":15.09,"vb":10.83},{"pitch":"SI","hb":17.62,"vb":10.83},{"pitch":"SI","hb":18.26,"vb":10.99},{"pitch":"SI","hb":16.67,"vb":9.87},{"pitch":"SI","hb":17.94,"vb":9.71},{"pitch":"SI","hb":19.05,"vb":9.87},{"pitch":"SI","hb":15.41,"vb":8.92},{"pitch":"SI","hb":17.31,"vb":8.92},{"pitch":"SI","hb":18.89,"vb":8.92},{"pitch":"SI","hb":19.52,"vb":9.23},{"pitch":"SI","hb":14.46,"vb":8.6},{"pitch":"SI","hb":18.26,"vb":8.12},{"pitch":"SI","hb":16.36,"vb":7.64},{"pitch":"SI","hb":17.62,"vb":7.48},{"pitch":"SI","hb":18.89,"vb":7.8},{"pitch":"SI","hb":19.68,"vb":7.0},{"pitch":"SI","hb":15.72,"vb":7.16},{"pitch":"SI","hb":16.99,"vb":7.0},{"pitch":"SI","hb":18.57,"vb":7.16},{"pitch":"SI","hb":16.04,"vb":6.36},{"pitch":"SI","hb":17.31,"vb":6.68},{"pitch":"SI","hb":19.52,"vb":7.64},{"pitch":"SI","hb":18.26,"vb":10.35},{"pitch":"SI","hb":16.2,"vb":10.19},{"pitch":"SI","hb":15.41,"vb":8.28},{"pitch":"SI","hb":16.5,"vb":9.2},{"pitch":"SI","hb":17.8,"vb":8.1},{"pitch":"SI","hb":16.8,"vb":8.0},{"pitch":"SI","hb":15.9,"vb":9.4},{"pitch":"SI","hb":18.0,"vb":9.3},{"pitch":"SI","hb":16.0,"vb":7.5},
{"pitch":"SI","hb":14.9,"vb":11.3},{"pitch":"SI","hb":16.0,"vb":11.6},{"pitch":"SI","hb":17.3,"vb":11.8},{"pitch":"SI","hb":19.2,"vb":11.0},{"pitch":"SI","hb":15.0,"vb":10.0},{"pitch":"SI","hb":16.4,"vb":9.5},{"pitch":"SI","hb":18.7,"vb":10.2},{"pitch":"SI","hb":20.1,"vb":9.9},{"pitch":"SI","hb":13.6,"vb":10.0},{"pitch":"SI","hb":14.0,"vb":8.9},{"pitch":"SI","hb":15.9,"vb":8.5},{"pitch":"SI","hb":17.6,"vb":9.0},{"pitch":"SI","hb":19.9,"vb":9.1},{"pitch":"SI","hb":20.4,"vb":8.2},{"pitch":"SI","hb":13.3,"vb":8.1},{"pitch":"SI","hb":14.7,"vb":8.0},{"pitch":"SI","hb":16.8,"vb":7.3},{"pitch":"SI","hb":19.0,"vb":6.8},{"pitch":"SI","hb":20.6,"vb":7.0},{"pitch":"SI","hb":14.4,"vb":7.1},{"pitch":"SI","hb":15.1,"vb":6.6},{"pitch":"SI","hb":16.9,"vb":6.1},{"pitch":"SI","hb":18.9,"vb":6.1},{"pitch":"SI","hb":21.0,"vb":6.3},{"pitch":"SI","hb":15.7,"vb":5.9},{"pitch":"SI","hb":17.8,"vb":5.4},{"pitch":"SI","hb":18.8,"vb":5.2},{"pitch":"SI","hb":19.7,"vb":5.8},{"pitch":"SI","hb":16.4,"vb":4.9},{"pitch":"SI","hb":18.4,"vb":4.6},{"pitch":"SI","hb":13.0,"vb":6.5},{"pitch":"SI","hb":12.3,"vb":8.0},{"pitch":"SI","hb":21.3,"vb":8.7},{"pitch":"SI","hb":21.8,"vb":9.9}
]},
"layer":[
{"data":{"name":"zx"},"mark":{"type":"rule","color":"#959eae","strokeWidth":2.5,"strokeDash":[9,5]},
 "encoding":{"x":{"field":"hb","type":"quantitative","scale":{"domain":[-29,29],"nice":false,"zero":false}}}},
{"data":{"name":"zy"},"mark":{"type":"rule","color":"#959eae","strokeWidth":2.5,"strokeDash":[9,5]},
 "encoding":{"y":{"field":"vb","type":"quantitative","scale":{"domain":[-29,29],"nice":false,"zero":false}}}},
{"data":{"name":"pitches"},"mark":{"type":"circle","size":245,"opacity":1,"stroke":"white","strokeWidth":1.3},
 "encoding":{
  "x":{"field":"hb","type":"quantitative","title":"Horizontal Break (in)","scale":{"domain":[-29,29],"nice":false,"zero":false},
   "axis":{"values":[-20,-10,0,10,20],"domain":false,"grid":false,"tickColor":"white","tickWidth":3,"tickSize":15,"labelColor":"white","labelFont":"DejaVu Sans","labelFontSize":29,"labelPadding":10,"labelExpr":"toString(datum.value)","titleColor":"white","titleFont":"DejaVu Sans","titleFontSize":32,"titleFontWeight":"normal","titleX":611,"titleY":97,"titleBaseline":"middle","titleAlign":"center"}},
  "y":{"field":"vb","type":"quantitative","title":"Vertical Break (in)","scale":{"domain":[-29,29],"nice":false,"zero":false},
   "axis":{"values":[-20,-10,0,10,20],"domain":false,"grid":false,"tickColor":"white","tickWidth":3,"tickSize":15,"labelColor":"white","labelFont":"DejaVu Sans","labelFontSize":29,"labelPadding":13,"titleColor":"white","titleFont":"DejaVu Sans","titleFontSize":32,"titleFontWeight":"normal","titleX":-120,"titleY":607,"titleAngle":270,"titleBaseline":"middle","titleAlign":"center"}},
  "color":{"field":"pitch","type":"nominal","scale":{"domain":["FF","FC","SI","SL","CU","CH"],"range":["#8b0000","#ff74b6","#ffd95a","#b86ffb","#009999","#22cc22"]},
   "legend":{"title":"Pitchtype (velo)","orient":"none","legendX":16,"legendY":15,"padding":12,"strokeColor":"#a9adb5","cornerRadius":6,"fillColor":"#172b4e","titleFont":"DejaVu Sans","titleFontSize":33,"titleFontWeight":"normal","titleColor":"white","titleAnchor":"middle","titleLimit":600,"titlePadding":13,"labelFont":"DejaVu Sans","labelFontSize":30,"labelColor":"white","labelLimit":600,"symbolType":"circle","symbolSize":283,"symbolStrokeWidth":0,"symbolOpacity":1,"symbolOffset":25,"labelOffset":33,"rowPadding":13.6,
    "labelExpr":"datum.label == 'FF' ? 'FF (95.6)' : datum.label == 'FC' ? 'FC (90.6)' : datum.label == 'SI' ? 'SI (94.3)' : datum.label == 'SL' ? 'SL (83.1)' : datum.label == 'CU' ? 'CU (78.1)' : 'CH (90.8)'"}}}},
{"data":{"name":"means"},"mark":{"type":"circle","size":950,"opacity":1,"stroke":"white","strokeWidth":5},
 "encoding":{"x":{"field":"hb","type":"quantitative"},"y":{"field":"vb","type":"quantitative"},"color":{"field":"pitch","type":"nominal"}}},
{"data":{"name":"heading"},"mark":{"type":"text","font":"DejaVu Sans","fontSize":49,"color":"white","align":"center","baseline":"alphabetic"},
 "encoding":{"x":{"field":"hb","type":"quantitative"},"y":{"field":"vb","type":"quantitative"},"text":{"field":"t"}}},
{"data":{"name":"words"},"mark":{"type":"text","font":"DejaVu Sans","fontSize":32,"color":"white","align":"center","baseline":"middle"},
 "encoding":{"x":{"field":"hb","type":"quantitative"},"y":{"field":"vb","type":"quantitative"},"text":{"field":"t"}}},
{"data":{"name":"arrows"},"mark":{"type":"rule","color":"white","strokeWidth":2.2},
 "encoding":{"x":{"field":"hb","type":"quantitative"},"y":{"field":"vb","type":"quantitative"},"x2":{"field":"hb2"},"y2":{"field":"vb2"}}},
{"data":{"name":"logo"},"mark":{"type":"point","filled":true,"color":"white","opacity":1,"size":3025,"shape":"M-0.87,-0.95 L0.22,-0.95 C0.62,-0.95 0.84,-0.7 0.84,-0.33 C0.84,0.05 0.62,0.31 0.22,0.31 L-0.33,0.31 L-0.33,1 L-0.76,1 L-0.76,-0.76 Z M-0.33,-0.67 L-0.33,0.02 L0.15,0.02 C0.32,0.02 0.4,-0.13 0.4,-0.33 C0.4,-0.53 0.32,-0.67 0.15,-0.67 Z"},
 "encoding":{"x":{"field":"hb","type":"quantitative"},"y":{"field":"vb","type":"quantitative"}}},
{"data":{"name":"brand1"},"mark":{"type":"text","font":"DejaVu Sans","fontWeight":"bold","fontSize":34,"color":"white","align":"left","baseline":"alphabetic"},
 "encoding":{"x":{"field":"hb","type":"quantitative"},"y":{"field":"vb","type":"quantitative"},"text":{"field":"t"}}},
{"data":{"name":"brand2"},"mark":{"type":"text","font":"Lato","fontWeight":300,"fontSize":33,"color":"white","align":"right","baseline":"alphabetic"},
 "encoding":{"x":{"field":"hb","type":"quantitative"},"y":{"field":"vb","type":"quantitative"},"text":{"field":"t"}}}
],
"config":{"view":{"stroke":null},"legend":{"strokeWidth":2.5}}
}
